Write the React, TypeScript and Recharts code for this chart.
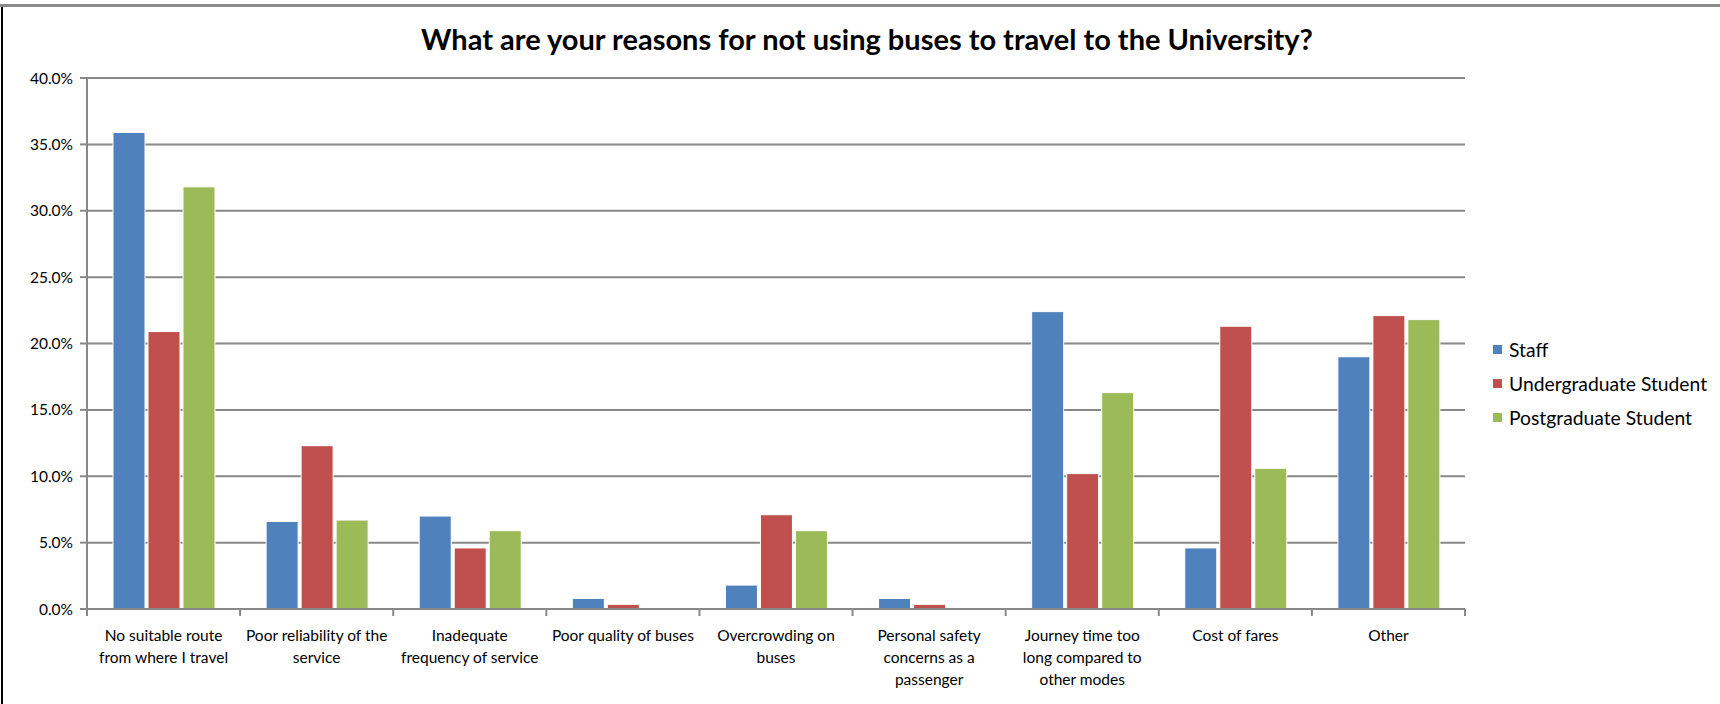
import { BarChart, Bar, XAxis, YAxis, CartesianGrid, Legend } from 'recharts';

const categories = [
    'No suitable route\nfrom where I travel',
    'Poor reliability of the\nservice',
    'Inadequate\nfrequency of service',
    'Poor quality  of buses',
    'Overcrowding on\nbuses',
    'Personal safety\nconcerns as a\npassenger',
    'Journey time too\nlong compared to\nother modes',
    'Cost of fares',
    'Other',
];
const staff = [35.9, 6.6, 7.0, 0.8, 1.8, 0.8, 22.4, 4.6, 19.0];
const undergrad = [20.9, 12.3, 4.6, 0.35, 7.1, 0.35, 10.2, 21.3, 22.1];
const postgrad = [31.8, 6.7, 5.9, 0, 5.9, 0, 16.3, 10.6, 21.8];
const yTicks = [0, 5, 10, 15, 20, 25, 30, 35, 40];

const series = [
    { key: 'staff', name: 'Staff', color: '#4F81BD' },
    { key: 'undergrad', name: 'Undergraduate Student', color: '#C0504D' },
    { key: 'postgrad', name: 'Postgraduate Student', color: '#9BBB59' },
];

const data = categories.map((name, i) => ({
    name,
    staff: staff[i],
    undergrad: undergrad[i],
    postgrad: postgrad[i],
}));

const FONT = 'Lato, "Open Sans", sans-serif';
const GRID = '#888888';
const W = 1720;
const H = 704;
const PLOT_LEFT = 87;
const PLOT_RIGHT = 1465;
const BAND = (PLOT_RIGHT - PLOT_LEFT) / categories.length;

const CategoryTick = (props: any) => {
    const { x, y, payload, index } = props;
    const lines = String(payload.value).split('\n');
    const left = x - BAND / 2;
    return (
        <g>
            <line x1={left} x2={left} y1={y} y2={y + 7} stroke={GRID} strokeWidth={2} />
            {index === categories.length - 1 && (
                <line x1={x + BAND / 2} x2={x + BAND / 2} y1={y} y2={y + 7} stroke={GRID} strokeWidth={2} />
            )}
            <text x={x} y={y + 32} textAnchor="middle" fontSize={15.5} fill="#000" fontFamily={FONT}>
                {lines.map((l, i) => (
                    <tspan key={i} x={x} dy={i === 0 ? 0 : 22}>{l}</tspan>
                ))}
            </text>
        </g>
    );
};

// drawn from the series list so the order matches the reference
const LegendBox = () => (
    <div style={{ fontFamily: FONT, fontSize: 19.3, color: '#000' }}>
        {series.map((s) => (
            <div key={s.key} style={{ display: 'flex', alignItems: 'center', height: 34 }}>
                <span style={{ width: 9, height: 9, background: s.color, marginRight: 7 }} />
                <span>{s.name}</span>
            </div>
        ))}
    </div>
);

export default function App() {
    return (
        <div style={{ position: 'absolute', left: 0, top: 0, width: W, height: H, background: '#fff', overflow: 'hidden' }}>
            <div style={{ position: 'absolute', left: 0, top: 4, width: W, height: 3, background: '#8a8a8a' }} />
            <div style={{ position: 'absolute', left: 1, top: 7, width: 1.5, height: H, background: '#000' }} />
            <div
                style={{
                    position: 'absolute', left: 0, width: 1734, top: 21, textAlign: 'center',
                    fontFamily: FONT, fontWeight: 700, fontSize: 29, color: '#000',
                }}
            >
                What are your reasons for not using buses to travel to the University?
            </div>
            <BarChart
                width={W}
                height={H}
                data={data}
                margin={{ top: 78, right: W - PLOT_RIGHT, bottom: 0, left: 27 }}
                barGap={3}
                barSize={32}
            >
                <CartesianGrid vertical={false} stroke={GRID} strokeWidth={2} />
                <XAxis
                    dataKey="name"
                    interval={0}
                    height={95}
                    axisLine={{ stroke: GRID, strokeWidth: 2 }}
                    tickLine={false}
                    tickSize={0}
                    tickMargin={0}
                    tick={<CategoryTick />}
                />
                <YAxis
                    width={60}
                    domain={[0, 40]}
                    ticks={yTicks}
                    tickFormatter={(v: number) => `${v.toFixed(1)}%`}
                    axisLine={{ stroke: GRID, strokeWidth: 2 }}
                    tickLine={{ stroke: GRID, strokeWidth: 2 }}
                    tickSize={7}
                    tickMargin={7}
                    tick={{ fontSize: 15.5, fill: '#000', fontFamily: FONT }}
                />
                <Legend
                    layout="vertical"
                    align="center"
                    verticalAlign="middle"
                    content={<LegendBox />}
                    wrapperStyle={{ left: 1493, top: 332, width: 224 }}
                />
                {series.map((s) => (
                    <Bar
                        key={s.key}
                        dataKey={s.key}
                        name={s.name}
                        fill={s.color}
                        stroke="#fff"
                        strokeWidth={1}
                        isAnimationActive={false}
                    />
                ))}
            </BarChart>
        </div>
    );
}
